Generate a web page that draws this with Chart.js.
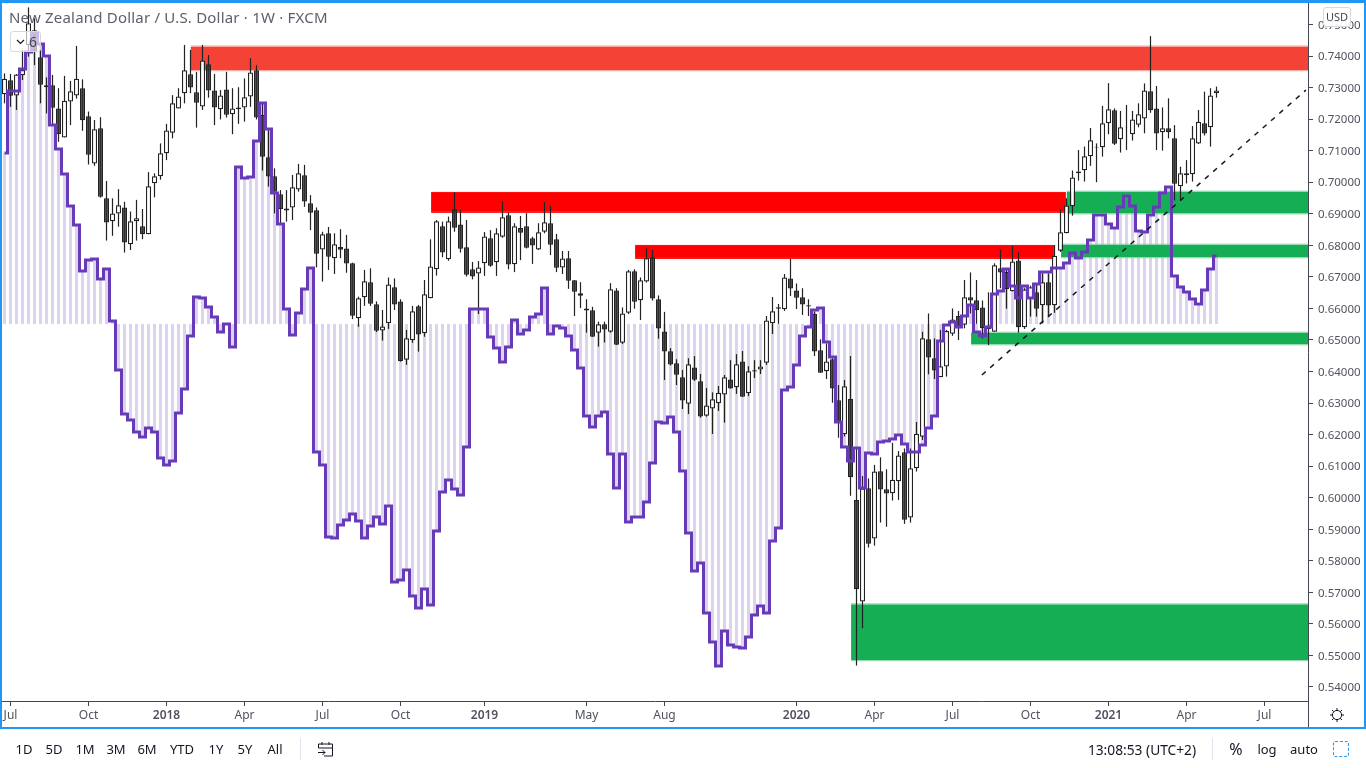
<!DOCTYPE html>
<html>
<head>
<meta charset="utf-8">
<script src="https://cdn.jsdelivr.net/npm/chart.js@4/dist/chart.umd.min.js"></script>
<style>
  html, body { margin: 0; padding: 0; background: #fff; overflow: hidden; }
  body { width: 1366px; height: 768px; position: relative; font-family: "Noto Sans", sans-serif; color: #131722; }
  canvas { position: absolute; left: 0; top: 0; }
  .ui { position: absolute; white-space: nowrap; }
  .mid { transform: translate(-50%, -50%); }
  #frame { position: absolute; left: 0; top: 0; width: 1362px; height: 724px; border: solid #2196f3; border-width: 3px 2px 2px 2px; pointer-events: none; }
</style>
</head>
<body>
<canvas id="chart" width="1366" height="768"></canvas>
<div id="frame"></div>
<div class="ui" style="left:1308px;top:701px;width:1px;height:26px;background:#434651"></div>
<div class="ui" style="left:9px;top:8px;font-size:15px;line-height:19px;color:#5d606b;letter-spacing:.2px">New Zealand Dollar / U.S. Dollar · 1W · FXCM</div>
<div class="ui" style="left:10px;top:31px;width:29px;height:19px;border:1px solid #d6d8de;border-radius:3px;background:rgba(255,255,255,.65);font-size:14px;line-height:19px;color:#434651">
  <svg style="position:absolute;left:5px;top:7px" width="9" height="6" viewBox="0 0 9 6"><path d="M1 1l3.5 3.5L8 1" fill="none" stroke="#131722" stroke-width="1.2"/></svg>
  <span style="position:absolute;left:18px">6</span>
</div>
<div class="ui" style="left:1323px;top:7px;width:26px;height:18px;border:1px solid #d6d8de;border-radius:3px;background:rgba(255,255,255,.92);font-size:11px;line-height:18px;text-align:center;color:#434651">USD</div>
<svg class="ui" style="left:1329px;top:707px" width="16" height="16" viewBox="0 0 16 16"><circle cx="8" cy="8" r="4.6" fill="none" stroke="#131722" stroke-width="1"/><path d="M8 1v2.4M8 12.6V15M1 8h2.4M12.6 8H15M3 3l1.7 1.7M11.3 11.3L13 13M13 3l-1.7 1.7M4.7 11.3L3 13" stroke="#131722" stroke-width="1"/></svg>
<div class="ui" style="left:300px;top:738px;width:1px;height:22px;background:#e0e3eb"></div>
<div class="ui" style="left:1212px;top:738px;width:1px;height:22px;background:#e0e3eb"></div>
<svg class="ui" style="left:317px;top:741px" width="17" height="16" viewBox="0 0 17 16"><path d="M1.5 7V3h14v12H7M1.5 7h14M5 1v3M12 1v3M1 11.5h7M5.5 9l2.5 2.5L5.5 14" fill="none" stroke="#131722" stroke-width="1"/></svg>
<div class="ui" style="left:1333px;top:741px;width:14px;height:14px;border:1px dashed #2196f3;border-radius:2px"></div>

<script>
// weekly NZD/USD candles
const opens = [
  0.7279,0.7323,0.7275,0.7339,0.7435,0.7482,0.7396,0.7301,0.7307,0.7234,
  0.7142,0.7256,0.7275,0.7298,0.7209,0.7059,0.7171,0.6949,0.6876,0.6901,
  0.6920,0.6803,0.6876,0.6860,0.6835,0.6997,0.7019,0.7092,0.7157,0.7234,
  0.7282,0.7342,0.7285,0.7240,0.7374,0.7291,0.7231,0.7294,0.7215,0.7231,
  0.7237,0.7272,0.7355,0.7213,0.7079,0.7019,0.6962,0.6917,0.6920,0.6977,
  0.7022,0.6933,0.6911,0.6787,0.6838,0.6759,0.6795,0.6790,0.6743,0.6569,
  0.6635,0.6683,0.6613,0.6530,0.6553,0.6667,0.6622,0.6437,0.6499,0.6607,
  0.6521,0.6632,0.6724,0.6860,0.6756,0.6914,0.6866,0.6794,0.6724,0.6711,
  0.6743,0.6822,0.6746,0.6827,0.6895,0.6740,0.6855,0.6860,0.6822,0.6787,
  0.6843,0.6870,0.6819,0.6730,0.6759,0.6689,0.6648,0.6600,0.6594,0.6523,
  0.6550,0.6526,0.6657,0.6491,0.6586,0.6718,0.6626,0.6685,0.6762,0.6629,
  0.6527,0.6464,0.6426,0.6382,0.6298,0.6413,0.6369,0.6260,0.6283,0.6299,
  0.6327,0.6375,0.6350,0.6432,0.6331,0.6404,0.6406,0.6428,0.6553,0.6604,
  0.6597,0.6695,0.6657,0.6635,0.6610,0.6582,0.6467,0.6401,0.6439,0.6309,
  0.6201,0.6313,0.5993,0.5671,0.6030,0.5871,0.6084,0.6027,0.6014,0.6052,
  0.6144,0.5937,0.6093,0.6193,0.6502,0.6442,0.6382,0.6416,0.6520,0.6576,
  0.6548,0.6635,0.6626,0.6603,0.6542,0.6526,0.6727,0.6716,0.6654,0.6752,
  0.6540,0.6632,0.6651,0.6610,0.6683,0.6610,0.6783,0.6838,0.6924,0.7028,
  0.7038,0.7082,0.7110,0.7111,0.7187,0.7228,0.7136,0.7173,0.7152,0.7182,
  0.7202,0.7288,0.7234,0.7158,0.7171,0.7139,0.6987,0.7022,0.7025,0.7123,
  0.7187,0.7174,0.7282
];
const closes = [
  0.7328,0.7274,0.7341,0.7356,0.7504,0.7414,0.7309,0.7307,0.7236,0.7152,
  0.7258,0.7288,0.7328,0.7196,0.7087,0.7168,0.6954,0.6872,0.6901,0.6927,
  0.6809,0.6876,0.6886,0.6835,0.6987,0.7019,0.7092,0.7164,0.7250,0.7272,
  0.7355,0.7300,0.7252,0.7386,0.7291,0.7237,0.7275,0.7214,0.7234,0.7237,
  0.7269,0.7348,0.7205,0.7081,0.7018,0.6970,0.6915,0.6910,0.6984,0.7028,
  0.6939,0.6903,0.6773,0.6835,0.6764,0.6803,0.6786,0.6742,0.6577,0.6632,
  0.6686,0.6615,0.6529,0.6543,0.6676,0.6612,0.6433,0.6505,0.6591,0.6517,
  0.6645,0.6733,0.6876,0.6777,0.6876,0.6856,0.6789,0.6707,0.6701,0.6730,
  0.6828,0.6735,0.6838,0.6889,0.6739,0.6860,0.6840,0.6792,0.6799,0.6841,
  0.6873,0.6802,0.6729,0.6758,0.6688,0.6653,0.6640,0.6593,0.6510,0.6550,
  0.6533,0.6661,0.6485,0.6584,0.6718,0.6621,0.6689,0.6759,0.6631,0.6536,
  0.6463,0.6422,0.6390,0.6308,0.6423,0.6374,0.6257,0.6292,0.6312,0.6333,
  0.6382,0.6346,0.6423,0.6320,0.6401,0.6400,0.6416,0.6562,0.6591,0.6599,
  0.6698,0.6663,0.6634,0.6612,0.6606,0.6463,0.6396,0.6432,0.6346,0.6241,
  0.6353,0.6065,0.5710,0.6029,0.5854,0.6083,0.6026,0.6013,0.6057,0.6134,
  0.5930,0.6093,0.6203,0.6505,0.6444,0.6403,0.6417,0.6528,0.6565,0.6537,
  0.6635,0.6625,0.6594,0.6537,0.6534,0.6737,0.6714,0.6661,0.6749,0.6540,
  0.6660,0.6667,0.6599,0.6683,0.6609,0.6767,0.6841,0.6926,0.7015,0.7034,
  0.7082,0.7133,0.7112,0.7187,0.7231,0.7122,0.7174,0.7174,0.7199,0.7215,
  0.7291,0.7228,0.7154,0.7171,0.7158,0.6995,0.7028,0.7028,0.7139,0.7192,
  0.7154,0.7275,0.7291
];
const highs = [
  0.7345,0.7343,0.7343,0.7419,0.7554,0.7519,0.7440,0.7332,0.7340,0.7298,
  0.7337,0.7321,0.7432,0.7326,0.7224,0.7197,0.7206,0.7004,0.6949,0.6978,
  0.6938,0.6907,0.6944,0.6915,0.7032,0.7028,0.7123,0.7185,0.7276,0.7298,
  0.7435,0.7419,0.7350,0.7435,0.7403,0.7343,0.7292,0.7350,0.7298,0.7301,
  0.7329,0.7393,0.7371,0.7250,0.7165,0.7044,0.6975,0.6975,0.7023,0.7058,
  0.7055,0.6959,0.6920,0.6843,0.6858,0.6838,0.6851,0.6833,0.6745,0.6637,
  0.6722,0.6727,0.6622,0.6595,0.6698,0.6695,0.6629,0.6532,0.6608,0.6611,
  0.6690,0.6819,0.6880,0.6875,0.6891,0.6968,0.6912,0.6880,0.6747,0.6750,
  0.6842,0.6848,0.6854,0.6940,0.6904,0.6870,0.6893,0.6902,0.6827,0.6870,
  0.6937,0.6925,0.6836,0.6782,0.6782,0.6690,0.6683,0.6629,0.6605,0.6558,
  0.6558,0.6680,0.6664,0.6603,0.6722,0.6724,0.6698,0.6791,0.6785,0.6641,
  0.6589,0.6474,0.6439,0.6405,0.6442,0.6449,0.6392,0.6348,0.6334,0.6354,
  0.6389,0.6436,0.6455,0.6465,0.6417,0.6436,0.6436,0.6576,0.6636,0.6614,
  0.6709,0.6757,0.6679,0.6664,0.6629,0.6590,0.6502,0.6489,0.6442,0.6357,
  0.6373,0.6449,0.6156,0.6069,0.6061,0.6104,0.6128,0.6090,0.6174,0.6148,
  0.6156,0.6156,0.6240,0.6526,0.6584,0.6505,0.6532,0.6532,0.6600,0.6592,
  0.6690,0.6714,0.6690,0.6625,0.6651,0.6743,0.6787,0.6722,0.6798,0.6778,
  0.6664,0.6672,0.6679,0.6711,0.6711,0.6801,0.6914,0.6949,0.7037,0.7102,
  0.7113,0.7172,0.7123,0.7242,0.7314,0.7234,0.7226,0.7245,0.7226,0.7250,
  0.7313,0.7463,0.7305,0.7237,0.7266,0.7181,0.7049,0.7070,0.7178,0.7229,
  0.7287,0.7298,0.7303
];
const lows = [
  0.7250,0.7239,0.7229,0.7324,0.7398,0.7371,0.7250,0.7218,0.7181,0.7128,
  0.7142,0.7181,0.7265,0.7163,0.7056,0.7052,0.6951,0.6815,0.6830,0.6859,
  0.6777,0.6785,0.6815,0.6819,0.6835,0.6952,0.7008,0.7070,0.7139,0.7234,
  0.7250,0.7282,0.7173,0.7229,0.7268,0.7181,0.7199,0.7205,0.7152,0.7185,
  0.7192,0.7239,0.7199,0.7037,0.6986,0.6901,0.6870,0.6875,0.6880,0.6970,
  0.6922,0.6848,0.6730,0.6685,0.6722,0.6709,0.6759,0.6713,0.6566,0.6542,
  0.6608,0.6608,0.6525,0.6498,0.6535,0.6595,0.6431,0.6421,0.6491,0.6463,
  0.6510,0.6632,0.6704,0.6762,0.6751,0.6843,0.6777,0.6701,0.6692,0.6582,
  0.6703,0.6732,0.6703,0.6824,0.6724,0.6715,0.6753,0.6790,0.6741,0.6785,
  0.6838,0.6769,0.6715,0.6709,0.6662,0.6576,0.6601,0.6523,0.6510,0.6479,
  0.6492,0.6523,0.6484,0.6487,0.6582,0.6599,0.6563,0.6682,0.6625,0.6504,
  0.6373,0.6419,0.6357,0.6281,0.6265,0.6370,0.6254,0.6257,0.6202,0.6275,
  0.6238,0.6346,0.6329,0.6320,0.6322,0.6379,0.6392,0.6421,0.6519,0.6551,
  0.6592,0.6639,0.6598,0.6579,0.6576,0.6449,0.6396,0.6376,0.6301,0.6190,
  0.6194,0.6006,0.5468,0.5586,0.5842,0.5848,0.5921,0.5908,0.5991,0.5993,
  0.5917,0.5921,0.6083,0.6183,0.6391,0.6376,0.6382,0.6384,0.6513,0.6500,
  0.6537,0.6584,0.6551,0.6505,0.6484,0.6526,0.6664,0.6599,0.6654,0.6523,
  0.6535,0.6574,0.6574,0.6553,0.6574,0.6586,0.6779,0.6838,0.6894,0.7005,
  0.7002,0.7052,0.7000,0.7081,0.7152,0.7118,0.7094,0.7102,0.7132,0.7174,
  0.7155,0.7220,0.7102,0.7100,0.7139,0.6942,0.6944,0.6996,0.7002,0.7121,
  0.7148,0.7113,0.7268
];
// the purple step indicator, no scale shown for it in the picture
const netPosition = [
  171,233,233,255,272,291,280,268,199,175,
  150,118,99,53,64,65,45,55,3,-46,
  -90,-96,-108,-113,-104,-108,-134,-141,-137,-89,
  -65,-12,27,26,17,7,-8,0,-23,157,
  146,147,183,221,195,131,100,15,-11,11,
  35,56,-128,-141,-213,-214,-201,-196,-190,-197,
  -214,-202,-193,-200,-182,-258,-256,-246,-272,-284,
  -265,-281,-207,-168,-156,-165,-171,-123,15,15,
  15,-13,-24,-38,-23,4,-10,-6,7,10,
  36,-10,-2,-4,-12,-26,-44,-92,-103,-92,
  -88,-130,-164,-130,-198,-193,-193,-178,-139,-98,
  -99,-93,-108,-147,-209,-247,-239,-289,-318,-342,
  -307,-321,-323,-324,-313,-291,-282,-289,-217,-204,
  -66,-63,-41,-12,-3,14,16,-18,-33,-98,
  -123,-137,-124,-164,-129,-130,-118,-117,-115,-111,
  -120,-128,-128,-121,-104,-92,-17,-1,2,-3,
  8,19,-8,-12,-3,30,33,55,38,26,
  38,26,40,52,52,56,56,61,71,66,
  72,84,109,109,100,96,117,128,118,93,
  92,109,117,131,137,48,37,32,25,20,
  34,55,68
];

const priceTicks = [0.54,0.55,0.56,0.57,0.58,0.59,0.60,0.61,0.62,0.63,0.64,0.65,0.66,0.67,0.68,0.69,0.70,0.71,0.72,0.73,0.74,0.75];
const timeTickWeeks = [1,14,27,40,53,66,80,97,110,132,145,158,171,184,197,210];
const timeTickLabels = ["Jul","Oct","2018","Apr","Jul","Oct","2019","May","Aug","2020","Apr","Jul","Oct","2021","Apr","Jul"];

// supply / demand boxes
const xMin = -0.4167, xMax = 217.25;
const zoneStart = [31.05, 71.1, 105.1, 177.05, 176.1, 161.1, 141.1];
const zoneEnd   = [xMax, 176.9, 174.9, xMax, xMax, xMax, xMax];
const zoneHigh  = [0.7430, 0.6966, 0.6798, 0.6970, 0.6802, 0.6523, 0.5662];
const zoneLow   = [0.7355, 0.6906, 0.6760, 0.6901, 0.6762, 0.6486, 0.5485];
const zoneKind  = ["soft", "hard", "hard", "green", "green", "green", "green"];
const trendWeeks = [162.9, 216.9];
const trendPrices = [0.6389, 0.7292];

const zoneFill = { soft: "#f44336", hard: "#ff0000", green: "#16ae54" };
const zoneEdge = { soft: "#f9a19a", hard: "#ff0000", green: "#8ad6a9" };

const rangeButtons = [["1D",24],["5D",54],["1M",85],["3M",116],["6M",147],["YTD",182],["1Y",216],["5Y",245],["All",275]];
const rightButtons = [["13:08:53 (UTC+2)",1142],["%",1236],["log",1267],["auto",1304]];
for (const [txt, x] of rangeButtons.concat(rightButtons)) {
  let d = document.createElement("div");
  d.className = "ui mid";
  let size = txt === "%" ? 16 : txt.length > 8 ? 13.75 : 13;
  d.style.cssText = "left:" + x + "px;top:749px;font-size:" + size + "px";
  d.textContent = txt;
  document.body.appendChild(d);
}

const weeks = highs.map((h, i) => i);
const axisColor = "#434651";
const textColor = "#50535e";
const uiFont = "'Noto Sans', sans-serif";

const zonesPlugin = {
  id: "zones",
  beforeDatasetDraw(chart, args) {
    if (args.index !== 1) return;
    const { ctx, scales, chartArea } = chart;
    ctx.save();
    ctx.beginPath();
    ctx.rect(chartArea.left, chartArea.top, chartArea.width, chartArea.height);
    ctx.clip();
    for (let i = 0; i < zoneStart.length; i++) {
      let x0 = scales.x.getPixelForValue(zoneStart[i]);
      let x1 = scales.x.getPixelForValue(zoneEnd[i]);
      let y0 = scales.y.getPixelForValue(zoneHigh[i]);
      let y1 = scales.y.getPixelForValue(zoneLow[i]);
      ctx.fillStyle = zoneFill[zoneKind[i]];
      ctx.fillRect(x0, y0, x1 - x0, y1 - y0);
      ctx.fillStyle = zoneEdge[zoneKind[i]];
      ctx.fillRect(x0, y0 - 1, x1 - x0, 1);
      ctx.fillRect(x0, y1, x1 - x0, 1);
    }
    ctx.restore();
  },
};

new Chart(document.getElementById("chart").getContext("2d"), {
  type: "bar",
  plugins: [zonesPlugin],
  data: {
    datasets: [
      {
        label: "Net position bars",
        yAxisID: "yInd",
        order: 5,
        barThickness: 3,
        backgroundColor: "#dcd3ee",
        data: weeks.map((w) => ({ x: w, y: netPosition[w] })),
      },
      {
        label: "Wicks",
        order: 4,
        barThickness: 1.2,
        backgroundColor: "#222222",
        data: weeks.map((w) => ({ x: w, y: [lows[w], highs[w]] })),
      },
      {
        label: "NZD/USD",
        order: 3,
        barThickness: 5,
        borderWidth: 1.25,
        borderSkipped: false,
        borderColor: "#222222",
        backgroundColor: weeks.map((w) => (closes[w] >= opens[w] ? "#ffffff" : "#2e2e2e")),
        data: weeks.map((w) => ({ x: w, y: [opens[w], closes[w]] })),
      },
      {
        type: "line",
        label: "Net position",
        yAxisID: "yInd",
        order: 2,
        stepped: "middle",
        borderColor: "#673ab7",
        borderWidth: 3,
        borderJoinStyle: "miter",
        pointRadius: 0,
        data: weeks.map((w) => ({ x: w, y: netPosition[w] })),
      },
      {
        type: "line",
        label: "Trend",
        order: 1,
        borderColor: "#131722",
        borderWidth: 1.5,
        borderDash: [5, 6],
        pointRadius: 0,
        data: trendWeeks.map((w, i) => ({ x: w, y: trendPrices[i] })),
      },
    ],
  },
  options: {
    responsive: false,
    animation: false,
    devicePixelRatio: 1,
    layout: { padding: { left: 2, top: 3, right: 2, bottom: 41 } },
    plugins: { legend: { display: false }, tooltip: { enabled: false } },
    datasets: { bar: { grouped: false, inflateAmount: 0 } },
    scales: {
      x: {
        type: "linear",
        offset: false,
        min: xMin,
        max: xMax,
        grid: { offset: false, drawOnChartArea: false, tickLength: 5, tickColor: axisColor },
        border: { color: axisColor },
        ticks: {
          autoSkip: false,
          maxRotation: 0,
          padding: 2,
          color: textColor,
          font: (ctx) => ({
            family: uiFont,
            size: 12,
            weight: /^\d/.test(ctx.tick ? ctx.tick.label : "") ? "600" : "400",
          }),
          callback: (v) => timeTickLabels[timeTickWeeks.indexOf(v)],
        },
        afterBuildTicks: (s) => { s.ticks = timeTickWeeks.map((v) => ({ value: v })); },
        afterFit: (s) => { s.height = 26; s.paddingLeft = 0; s.paddingRight = 0; },
      },
      y: {
        position: "right",
        min: 0.53556,
        max: 0.7568,
        grid: { drawOnChartArea: false, tickLength: 5, tickColor: axisColor },
        border: { color: axisColor },
        ticks: {
          padding: 5,
          labelOffset: 1,
          color: textColor,
          font: { family: uiFont, size: 11.5 },
          callback: (v) => v.toFixed(5),
        },
        afterBuildTicks: (s) => { s.ticks = priceTicks.map((v) => ({ value: v })); },
        afterFit: (s) => { s.width = 56; s.paddingTop = 0; s.paddingBottom = 0; },
      },
      yInd: { display: false, min: -377, max: 321 },
    },
  },
});
</script>
</body>
</html>
